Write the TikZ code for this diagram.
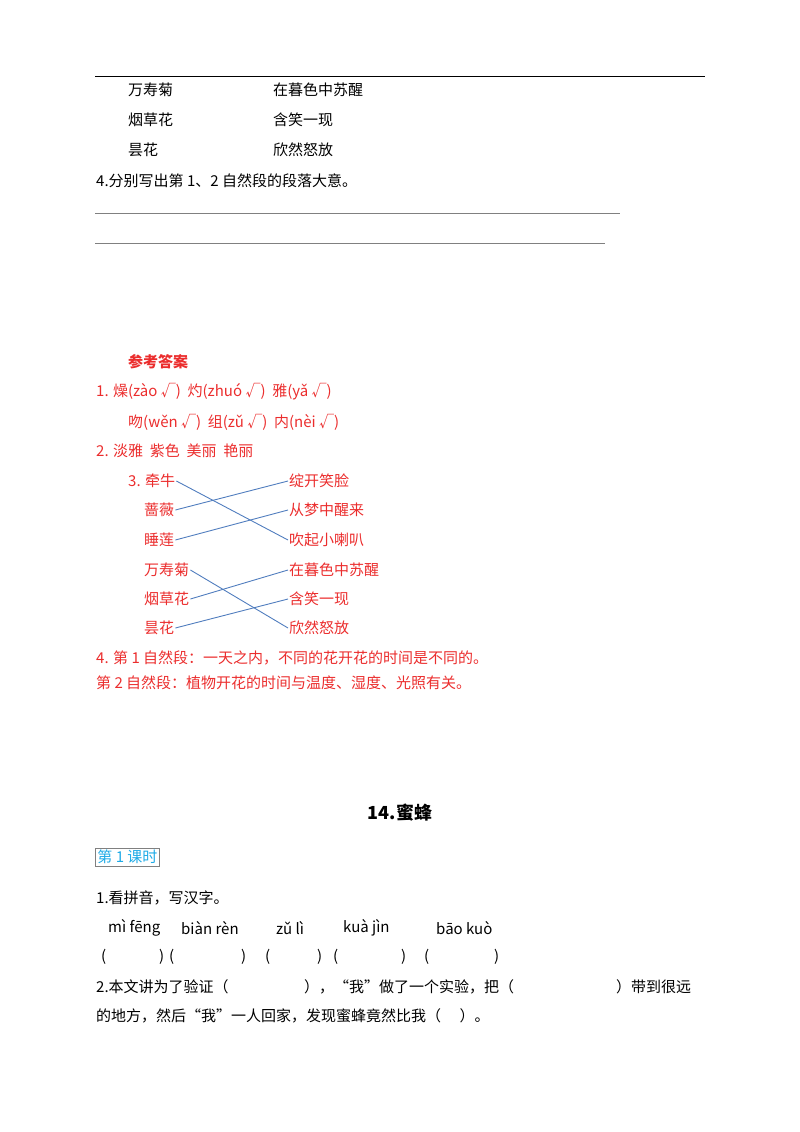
\documentclass[tikz,border=0pt]{standalone}
\usepackage{fontspec}
\setmainfont{Noto Sans CJK SC}
\definecolor{ans}{RGB}{235,45,45}
\definecolor{ln}{RGB}{80,125,190}
\definecolor{cy}{RGB}{30,170,230}
\begin{document}
\begin{tikzpicture}[x=1pt,y=-1pt,
  t/.style={anchor=west,inner sep=1pt,font=\fontsize{15}{18}\selectfont},
  r/.style={t,text=ans},
  m/.style={ln,line width=0.9pt}]
\useasboundingbox (0,0) rectangle (800,1132);
\draw[line width=0.8pt] (95,76) -- (705,76);
\node[t] at (127,90) {万寿菊}; \node[t] at (272,90) {在暮色中苏醒};
\node[t] at (127,120) {烟草花}; \node[t] at (272,120) {含笑一现};
\node[t] at (127,150) {昙花}; \node[t] at (272,150) {欣然怒放};
\node[t] at (95,181) {4.分别写出第 1、2 自然段的段落大意。};
\draw[gray,line width=0.5pt] (95,213) -- (620,213);
\draw[gray,line width=0.5pt] (95,243) -- (605,243);
\node[r,font=\fontsize{15}{18}\selectfont\bfseries] at (127,362) {参考答案};
\node[r] at (95,392) {1. 燥(zào √)\ \ 灼(zhuó √)\ \ 雅(yǎ √)};
\node[r] at (127,422) {吻(wěn √)\ \ 组(zǔ √)\ \ 内(nèi √)};
\node[r] at (95,451) {2. 淡雅\ \ 紫色\ \ 美丽\ \ 艳丽};
\node[r] (a1) at (127,481) {3. 牵牛};
\node[r] (a2) at (143,510) {蔷薇};
\node[r] (a3) at (143,540) {睡莲};
\node[r] (a4) at (143,570) {万寿菊};
\node[r] (a5) at (143,599) {烟草花};
\node[r] (a6) at (143,628) {昙花};
\node[r] (b1) at (288,481) {绽开笑脸};
\node[r] (b2) at (288,510) {从梦中醒来};
\node[r] (b3) at (288,540) {吹起小喇叭};
\node[r] (b4) at (288,570) {在暮色中苏醒};
\node[r] (b5) at (288,599) {含笑一现};
\node[r] (b6) at (288,628) {欣然怒放};
\draw[m] (a1.east) -- (b3.west);
\draw[m] (a2.east) -- (b1.west);
\draw[m] (a3.east) -- (b2.west);
\draw[m] (a4.east) -- (b6.west);
\draw[m] (a5.east) -- (b4.west);
\draw[m] (a6.east) -- (b5.west);
\node[r] at (95,658) {4. 第 1 自然段：一天之内，不同的花开花的时间是不同的。};
\node[r] at (95,683) {第 2 自然段：植物开花的时间与温度、湿度、光照有关。};
\node[font=\fontsize{18}{21}\selectfont\bfseries] at (400,813) {14.蜜蜂};
\node[draw=gray,line width=0.8pt,text=cy,inner sep=2pt,anchor=west,font=\fontsize{15}{18}\selectfont] at (95,857) {第 1 课时};
\node[t] at (95,898) {1.看拼音，写汉字。};
\node[t] at (107,928) {mì fēng}; \node[t] at (180,928) {biàn rèn};
\node[t] at (275,928) {zǔ lì}; \node[t] at (342,928) {kuà jìn};
\node[t] at (435,928) {bāo kuò};
\foreach \x in {100,168,264,332,423}{\node[t] at (\x,957) {(};}
\foreach \x in {158,240,316,400,493}{\node[t] at (\x,957) {)};}
\node[t] at (95,987) {2.本文讲为了验证（};
\node[t] at (303,987) {），“我”做了一个实验，把（};
\node[t] at (615,987) {）带到很远};
\node[t] at (95,1016) {的地方，然后“我”一人回家，发现蜜蜂竟然比我（\quad\ ）。};
\end{tikzpicture}
\end{document}
